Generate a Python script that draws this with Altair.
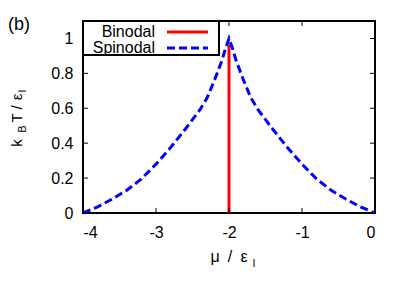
import altair as alt
import pandas as pd

# ---- data ----
x_ticks = [-4, -3, -2, -1, 0]
y_ticks = [0, 0.2, 0.4, 0.6, 0.8, 1]

binodal_mu = [-2.0, -2.0]
binodal_T = [0.0, 0.965]

spinodal_mu = [-4.0, -3.8, -3.6, -3.4, -3.2, -3.0, -2.8, -2.6, -2.4, -2.3, -2.2, -2.1, -2.05, -2.0,
               -1.95, -1.9, -1.8, -1.7, -1.6, -1.4, -1.2, -1.0, -0.8, -0.6, -0.4, -0.2, 0.0]
spinodal_T = [0.0, 0.035, 0.08, 0.13, 0.195, 0.28, 0.375, 0.48, 0.59, 0.66, 0.76, 0.87, 0.94, 1.0,
              0.94, 0.87, 0.76, 0.66, 0.59, 0.48, 0.375, 0.28, 0.195, 0.13, 0.08, 0.035, 0.0]

series_names = ["Binodal", "Spinodal"]

FONT = "Liberation Sans"
W, H = 292, 192

x_scale = alt.Scale(domain=[-4, 0], nice=False, zero=False)
y_scale = alt.Scale(domain=[0, 1.1], nice=False, zero=False)

x_axis = alt.Axis(values=x_ticks, title=None, ticks=False, domain=False, grid=False,
                  labelFont=FONT, labelFontSize=16, labelColor="black",
                  labelPadding=11, labelExpr="'' + datum.value")
y_axis = alt.Axis(values=y_ticks, title=None, ticks=False, domain=False, grid=False,
                  labelFont=FONT, labelFontSize=16, labelColor="black",
                  labelPadding=10, labelExpr="'' + datum.value")

bin_df = pd.DataFrame({"mu": binodal_mu, "T": binodal_T})
spin_df = pd.DataFrame({"mu": spinodal_mu, "T": spinodal_T, "i": list(range(len(spinodal_mu)))})
one = pd.DataFrame({"a": [0]})

binodal = alt.Chart(bin_df).mark_line(color="#ff0000", strokeWidth=3).encode(
    x=alt.X("mu:Q", scale=x_scale, axis=x_axis),
    y=alt.Y("T:Q", scale=y_scale, axis=y_axis),
)

spinodal = alt.Chart(spin_df).mark_line(color="#0000ff", strokeWidth=3, strokeDash=[8, 4]).encode(
    x=alt.X("mu:Q", scale=x_scale, axis=x_axis),
    y=alt.Y("T:Q", scale=y_scale, axis=y_axis),
    order="i:Q",
)

# inward ticks on all four sides
tx = pd.DataFrame({"mu": x_ticks})
ty = pd.DataFrame({"T": y_ticks})
tk = dict(color="black", strokeWidth=1)
t_bottom = alt.Chart(tx).mark_rule(**tk).encode(
    x=alt.X("mu:Q", scale=x_scale, axis=x_axis), y=alt.value(H), y2=alt.value(H - 5))
t_top = alt.Chart(tx).mark_rule(**tk).encode(
    x=alt.X("mu:Q", scale=x_scale, axis=x_axis), y=alt.value(0), y2=alt.value(5))
t_left = alt.Chart(ty).mark_rule(**tk).encode(
    y=alt.Y("T:Q", scale=y_scale, axis=y_axis), x=alt.value(0), x2=alt.value(5))
t_right = alt.Chart(ty).mark_rule(**tk).encode(
    y=alt.Y("T:Q", scale=y_scale, axis=y_axis), x=alt.value(W), x2=alt.value(W - 5))

# legend (label left of sample, as in the reference)
leg_box = alt.Chart(one).mark_rect(fill="white", stroke="black", strokeWidth=2).encode(
    x=alt.value(0), x2=alt.value(136), y=alt.value(0), y2=alt.value(34))
leg_txt1 = alt.Chart(one).mark_text(text=series_names[0], align="right", baseline="middle",
                                    font=FONT, fontSize=16, color="black").encode(
    x=alt.value(72), y=alt.value(11))
leg_txt2 = alt.Chart(one).mark_text(text=series_names[1], align="right", baseline="middle",
                                    font=FONT, fontSize=16, color="black").encode(
    x=alt.value(72), y=alt.value(27))
leg_l1 = alt.Chart(one).mark_rule(color="#ff0000", strokeWidth=3).encode(
    x=alt.value(84), x2=alt.value(125), y=alt.value(11))
leg_l2 = alt.Chart(one).mark_rule(color="#0000ff", strokeWidth=3, strokeDash=[8, 4]).encode(
    x=alt.value(84), x2=alt.value(125), y=alt.value(27))

def txt(s, x, y, size=16, angle=0, align="center", baseline="alphabetic"):
    kw = dict(text=s, align=align, baseline=baseline, font=FONT, fontSize=size, color="black")
    if angle:
        kw["angle"] = angle
    return alt.Chart(one).mark_text(**kw).encode(x=alt.value(x), y=alt.value(y))

# x title: μ / ε_l
xt = [txt("μ", 132, 241), txt("/", 147, 241), txt("ε", 161, 241), txt("l", 171, 246, size=11)]
# y title: k_B T/ε_l (rotated)
yt = [txt("k", -61, 122, size=15, angle=270), txt("B", -57, 108, size=11, angle=270),
      txt("T", -61, 97, size=15, angle=270), txt("/", -61, 86.5, size=15, angle=270),
      txt("ε", -61, 76, size=15, angle=270), txt("l", -57, 70, size=11, angle=270)]
panel = txt("(b)", -75, 9, size=18, align="left")

chart = alt.layer(
    binodal, spinodal, t_bottom, t_top, t_left, t_right,
    leg_box, leg_txt1, leg_txt2, leg_l1, leg_l2, *xt, *yt, panel
).properties(
    width=W, height=H,
    autosize=alt.AutoSizeParams(type="none"),
    padding={"left": 75, "top": 13, "right": 24, "bottom": 64},
    background="white",
).configure_view(stroke="black", strokeWidth=2)

chart.save("out.html", embed_options={"renderer": "svg", "actions": False})
